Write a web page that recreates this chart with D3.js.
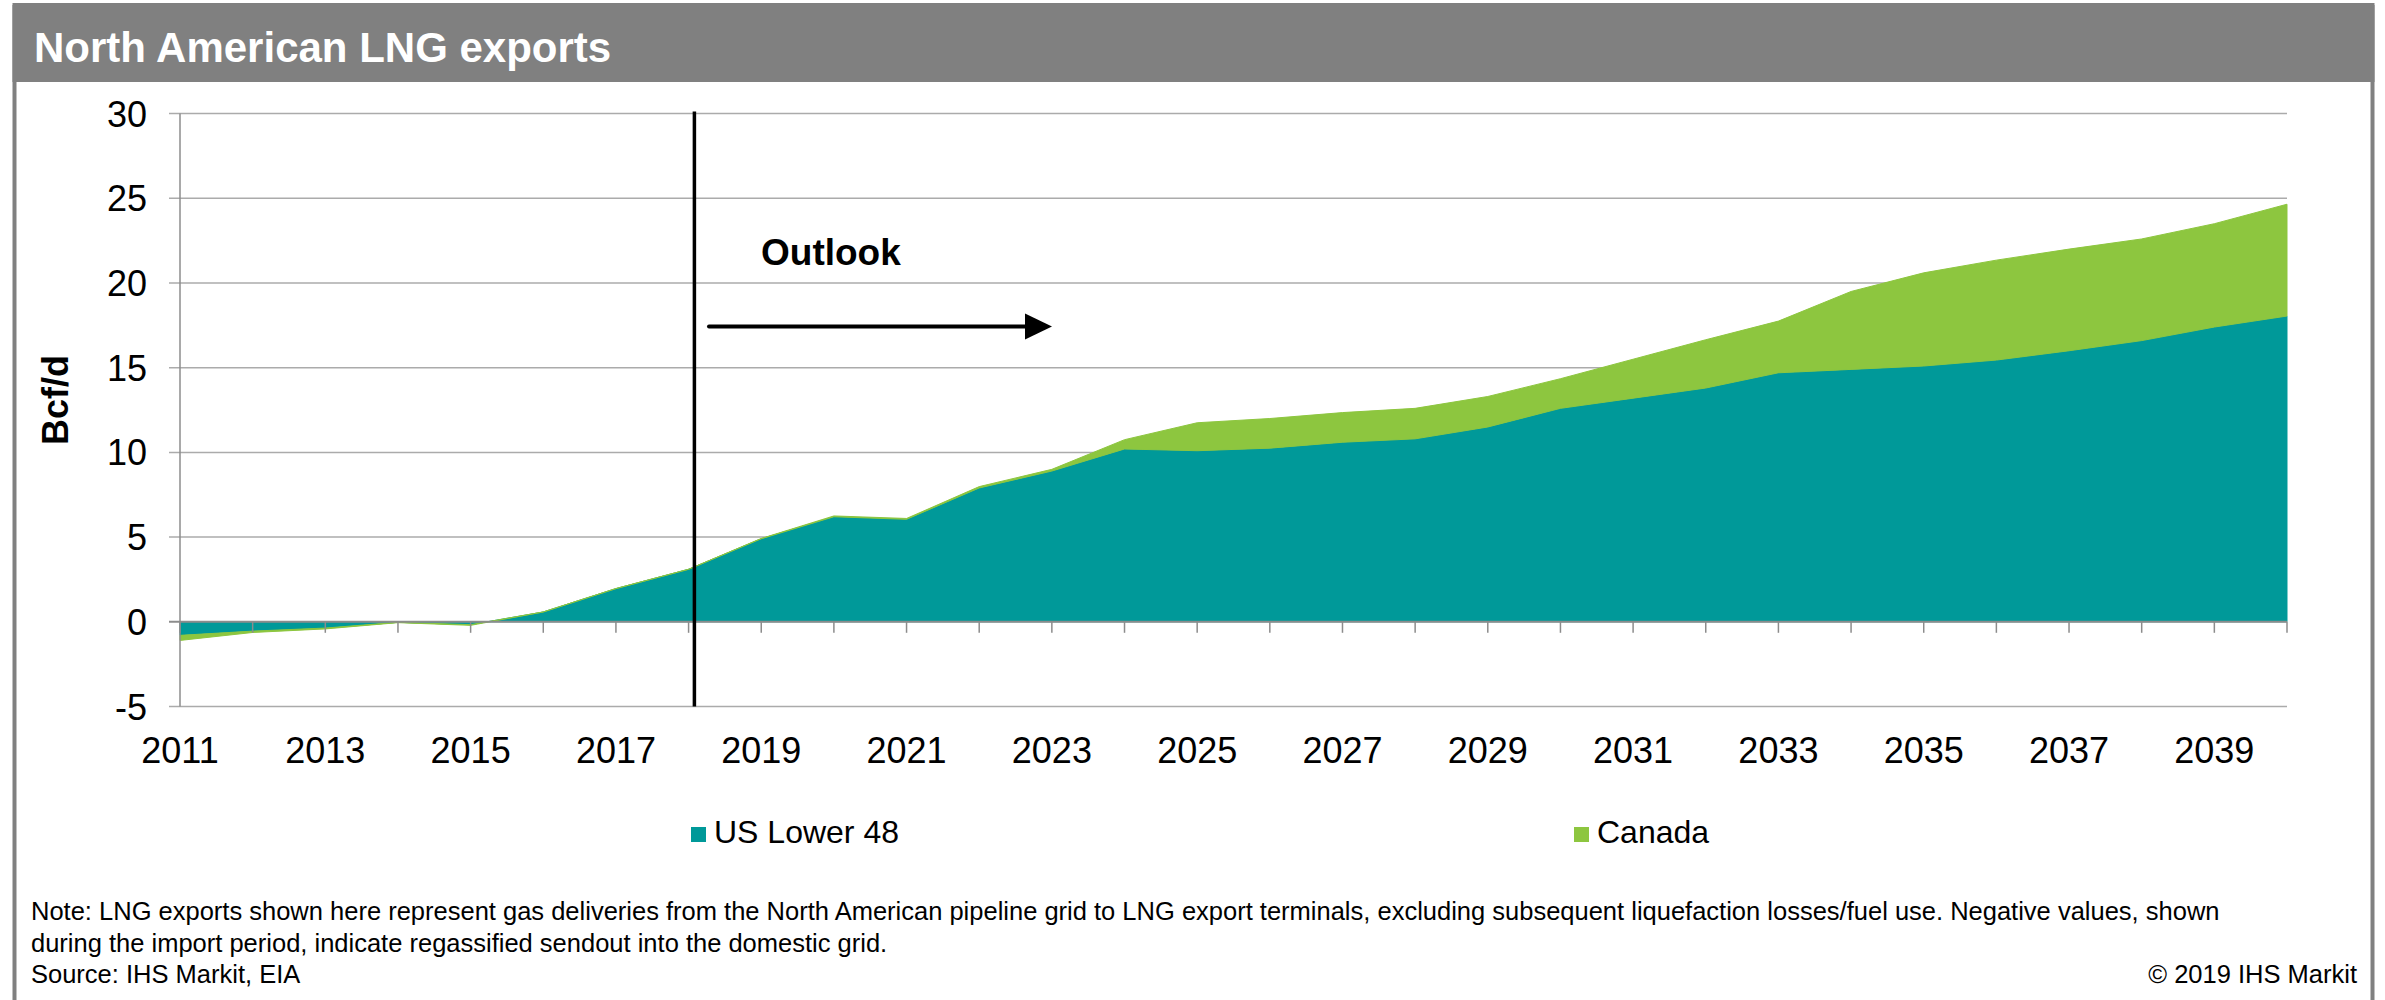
<!DOCTYPE html>
<html>
<head>
<meta charset="utf-8">
<script src="https://d3js.org/d3.v7.min.js"></script>
<style>
  body { margin: 0; background: #fff; }
  text { font-family: "Liberation Sans", Arial, sans-serif; }
</style>
</head>
<body>
<div id="chart"></div>
<script>
// data
var years = d3.range(2011, 2041);
var usLower48 = [-0.8, -0.55, -0.37, -0.03, -0.17, 0.58, 1.96, 3.1, 4.9, 6.2,
  6.05, 7.9, 8.9, 10.2, 10.1, 10.25, 10.6, 10.8, 11.5, 12.6,
  13.2, 13.8, 14.7, 14.9, 15.1, 15.45, 16.0, 16.6, 17.4, 18.05];
var canada = [-0.3, -0.08, -0.05, -0.02, -0.04, 0, 0, 0, 0.02, 0.05,
  0.05, 0.08, 0.1, 0.55, 1.65, 1.75, 1.75, 1.8, 1.8, 1.75,
  2.3, 2.85, 3.05, 4.6, 5.5, 5.9, 6.0, 6.0, 6.1, 6.6];
var seriesNames = ["US Lower 48", "Canada"];
var yTicks = [-5, 0, 5, 10, 15, 20, 25, 30];
var xLabelYears = d3.range(2011, 2041, 2);
var outlookYear = 2018.08;

var svgWidth = 2385;
var svgHeight = 1000;

// plot area (window.top is reserved, so prefix these)
var plotLeft = 180, plotRight = 2287, plotTop = 113.6, plotBottom = 706.5;

var teal = "#009999";
var green = "#8DC63F";

var svg = d3.select("#chart")
  .append("svg")
  .attr("width", svgWidth)
  .attr("height", svgHeight);

// outer frame + title bar
svg.append("rect")
  .attr("x", 14.5).attr("y", 5)
  .attr("width", 2358).attr("height", 1010)
  .attr("fill", "none")
  .attr("stroke", "#808080")
  .attr("stroke-width", 4);

svg.append("rect")
  .attr("x", 12.5).attr("y", 5)
  .attr("width", 2362).attr("height", 77)
  .attr("fill", "#808080");

svg.append("text")
  .attr("x", 34).attr("y", 62)
  .attr("fill", "#fff")
  .style("font-size", "42px")
  .style("font-weight", "bold")
  .text("North American LNG exports");

// scales
var x = d3.scaleLinear().domain([2011, 2040]).range([plotLeft, plotRight]);
var y = d3.scaleLinear().domain([-5, 30]).range([plotBottom, plotTop]);

// gridlines
svg.append("g")
  .selectAll("line")
  .data(yTicks.filter(d => d !== 0))
  .enter()
  .append("line")
  .attr("x1", plotLeft - 11).attr("x2", plotRight)
  .attr("y1", d => y(d)).attr("y2", d => y(d))
  .attr("stroke", "#ababab")
  .attr("stroke-width", 1.5);

// stacked areas (cumulative, like excel)
var table = years.map((yr, i) => ({ year: yr, "US Lower 48": usLower48[i], "Canada": canada[i] }));
var stack = d3.stack().keys(seriesNames).offset(d3.stackOffsetNone);
var layers = stack(table);

var area = d3.area()
  .x(d => x(d.data.year))
  .y0(d => y(d[0]))
  .y1(d => y(d[1]));

svg.append("g")
  .selectAll("path")
  .data(layers)
  .enter()
  .append("path")
  .attr("d", area)
  .attr("fill", (d, i) => i === 0 ? teal : green)
  .attr("stroke", (d, i) => i === 0 ? teal : green)
  .attr("stroke-width", 1);

// y axis line
svg.append("line")
  .attr("x1", plotLeft).attr("x2", plotLeft)
  .attr("y1", plotTop).attr("y2", plotBottom)
  .attr("stroke", "#8c8c8c")
  .attr("stroke-width", 1.5);

// zero line
svg.append("line")
  .attr("x1", plotLeft - 11).attr("x2", plotRight)
  .attr("y1", y(0)).attr("y2", y(0))
  .attr("stroke", "#8c8c8c")
  .attr("stroke-width", 2);

// x ticks hang from the zero line
svg.append("g")
  .selectAll("line")
  .data(years)
  .enter()
  .append("line")
  .attr("x1", d => x(d)).attr("x2", d => x(d))
  .attr("y1", y(0)).attr("y2", y(0) + 11)
  .attr("stroke", "#8c8c8c")
  .attr("stroke-width", 1.5);

// y tick labels
svg.append("g")
  .selectAll("text")
  .data(yTicks)
  .enter()
  .append("text")
  .attr("x", 147)
  .attr("y", d => y(d) + 13)
  .attr("text-anchor", "end")
  .style("font-size", "36px")
  .text(d => d);

// x labels
svg.append("g")
  .selectAll("text")
  .data(xLabelYears)
  .enter()
  .append("text")
  .attr("x", d => x(d))
  .attr("y", 763)
  .attr("text-anchor", "middle")
  .style("font-size", "36px")
  .text(d => d);

// y title
svg.append("text")
  .attr("transform", "translate(68,400) rotate(-90)")
  .attr("text-anchor", "middle")
  .style("font-size", "36px")
  .style("font-weight", "bold")
  .text("Bcf/d");

// outlook marker
svg.append("line")
  .attr("x1", x(outlookYear)).attr("x2", x(outlookYear))
  .attr("y1", plotTop - 2).attr("y2", plotBottom)
  .attr("stroke", "#000")
  .attr("stroke-width", 3.5);

svg.append("text")
  .attr("x", 761).attr("y", 265)
  .style("font-size", "37px")
  .style("font-weight", "bold")
  .text("Outlook");

svg.append("line")
  .attr("x1", 709).attr("x2", 1028)
  .attr("y1", 326.5).attr("y2", 326.5)
  .attr("stroke", "#000")
  .attr("stroke-width", 4)
  .attr("stroke-linecap", "round");

svg.append("path")
  .attr("d", "M1025,313.5 L1052,326.5 L1025,339.5 Z")
  .attr("fill", "#000");

// legend
var legendX = [691, 1574];
var legend = svg.append("g")
  .selectAll("g")
  .data(seriesNames)
  .enter()
  .append("g")
  .attr("transform", (d, i) => "translate(" + legendX[i] + ",827)");

legend.append("rect")
  .attr("width", 15).attr("height", 15)
  .attr("fill", (d, i) => i === 0 ? teal : green);

legend.append("text")
  .attr("x", 23).attr("y", 16)
  .style("font-size", "32px")
  .text(d => d);

// notes
var notes = [
  "Note: LNG exports shown here represent gas deliveries from the North American pipeline grid to LNG export terminals, excluding subsequent liquefaction losses/fuel use. Negative values, shown",
  "during the import period, indicate regassified sendout into the domestic grid.",
  "Source: IHS Markit, EIA"
];

svg.append("g")
  .selectAll("text")
  .data(notes)
  .enter()
  .append("text")
  .attr("x", 31)
  .attr("y", (d, i) => 920 + i * 31.5)
  .style("font-size", "25.5px")
  .text(d => d);

svg.append("text")
  .attr("x", 2357).attr("y", 983)
  .attr("text-anchor", "end")
  .style("font-size", "25.5px")
  .text("\u00a9 2019 IHS Markit");
</script>
</body>
</html>
